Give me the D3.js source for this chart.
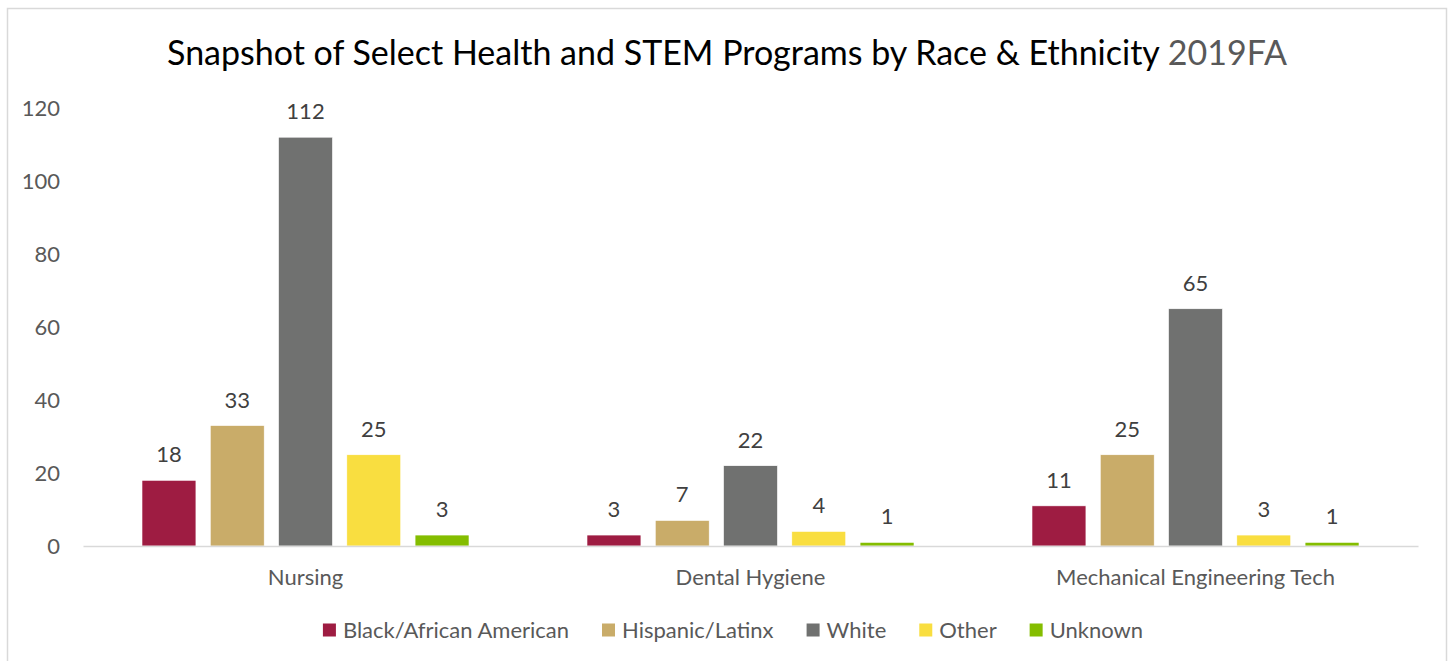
<!DOCTYPE html>
<html>
<head>
<meta charset="utf-8">
<script src="https://cdn.jsdelivr.net/npm/d3@7"></script>
<style>
  html, body { margin: 0; padding: 0; background: #fff; }
  svg { display: block; }
  text { font-family: Lato, "Open Sans", sans-serif; }
</style>
</head>
<body>
<svg id="chart" width="1452" height="661"></svg>
<script>
// Programs shown along the x axis
const programs = ["Nursing", "Dental Hygiene", "Mechanical Engineering Tech"];
// Race & ethnicity groups, one bar each per program
const groups = ["Black/African American", "Hispanic/Latinx", "White", "Other", "Unknown"];
// Headcount per group, in program order
const blackAfricanAmerican = [18, 3, 11];
const hispanicLatinx = [33, 7, 25];
const white = [112, 22, 65];
const other = [25, 4, 3];
const unknown = [3, 1, 1];
const yTicks = [0, 20, 40, 60, 80, 100, 120];
const groupColors = ["#9E1C42", "#C9AC69", "#707170", "#F9DE40", "#84BD00"];

const seriesValues = [blackAfricanAmerican, hispanicLatinx, white, other, unknown];
const rows = programs.map((p, i) => ({
  program: p,
  values: groups.map((g, j) => ({ group: g, value: seriesValues[j][i] }))
}));

const svg = d3.select("#chart");
const labelSize = 22;

// Chart frame
svg.append("rect")
  .attr("x", 7.5).attr("y", 8.5)
  .attr("width", 1439).attr("height", 700)
  .attr("fill", "#fff")
  .attr("stroke", "#d9d9d9").attr("stroke-width", 1.5);

// Title
const title = svg.append("text")
  .attr("x", 727).attr("y", 65)
  .attr("text-anchor", "middle")
  .attr("font-size", 32)
  .attr("fill", "#000");
title.append("tspan").text("Snapshot of Select Health and STEM Programs by Race & Ethnicity ");
title.append("tspan").attr("fill", "#595959").text("2019FA");
// fit title width
const tw = title.node().getComputedTextLength();
title.attr("font-size", 32 * 1120 / tw);

const x0 = d3.scaleBand().domain(programs).range([83, 1418]).paddingInner(0).paddingOuter(0);
const groupSpan = 327;
const x1 = d3.scaleBand().domain(groups)
  .range([(x0.bandwidth() - groupSpan) / 2, (x0.bandwidth() + groupSpan) / 2])
  .paddingInner(0.21).paddingOuter(0);
const y = d3.scaleLinear().domain([0, 120]).range([546, 108]);
const color = d3.scaleOrdinal().domain(groups).range(groupColors);

// Y axis tick labels (no axis line, no gridlines)
const yAxis = svg.append("g")
  .attr("transform", "translate(60,0)")
  .call(d3.axisLeft(y).tickValues(yTicks).tickSize(0).tickPadding(0));
yAxis.select(".domain").remove();
yAxis.selectAll("text")
  .attr("font-family", "Lato, 'Open Sans', sans-serif")
  .attr("font-size", labelSize)
  .attr("fill", "#595959");

// Bars
const progG = svg.selectAll("g.program")
  .data(rows).enter().append("g")
  .attr("class", "program")
  .attr("transform", d => `translate(${x0(d.program)},0)`);

progG.selectAll("rect")
  .data(d => d.values).enter().append("rect")
  .attr("x", d => x1(d.group))
  .attr("y", d => y(d.value))
  .attr("width", x1.bandwidth())
  .attr("height", d => y(0) - y(d.value))
  .attr("fill", d => color(d.group))
  .attr("stroke", "#fff").attr("stroke-width", 0.6);

// Value labels
progG.selectAll("text.val")
  .data(d => d.values).enter().append("text")
  .attr("class", "val")
  .attr("x", d => x1(d.group) + x1.bandwidth() / 2)
  .attr("y", d => y(d.value) - 18)
  .attr("text-anchor", "middle")
  .attr("font-size", labelSize)
  .attr("fill", "#404040")
  .text(d => d.value);

// X axis baseline and category labels
const xAxis = svg.append("g")
  .attr("transform", `translate(0,${y(0)})`)
  .call(d3.axisBottom(x0).tickSize(0).tickPadding(23));
xAxis.select(".domain").attr("stroke", "#d9d9d9").attr("stroke-width", 1.5);
xAxis.selectAll("text")
  .attr("font-family", "Lato, 'Open Sans', sans-serif")
  .attr("font-size", labelSize)
  .attr("fill", "#595959");

// Legend
const legend = svg.append("g");
let lx = 0;
groups.forEach((g, i) => {
  const item = legend.append("g").attr("transform", `translate(${lx},0)`);
  item.append("rect").attr("x", 0).attr("y", -6.5).attr("width", 13).attr("height", 13).attr("fill", color(g));
  const t = item.append("text").attr("x", 20).attr("y", 0).attr("dy", "0.35em")
    .attr("font-size", labelSize).attr("fill", "#595959").text(g);
  lx += 20 + t.node().getComputedTextLength() + 33;
});
lx -= 33;
legend.attr("transform", `translate(${733 - lx / 2},630)`);
</script>
</body>
</html>
